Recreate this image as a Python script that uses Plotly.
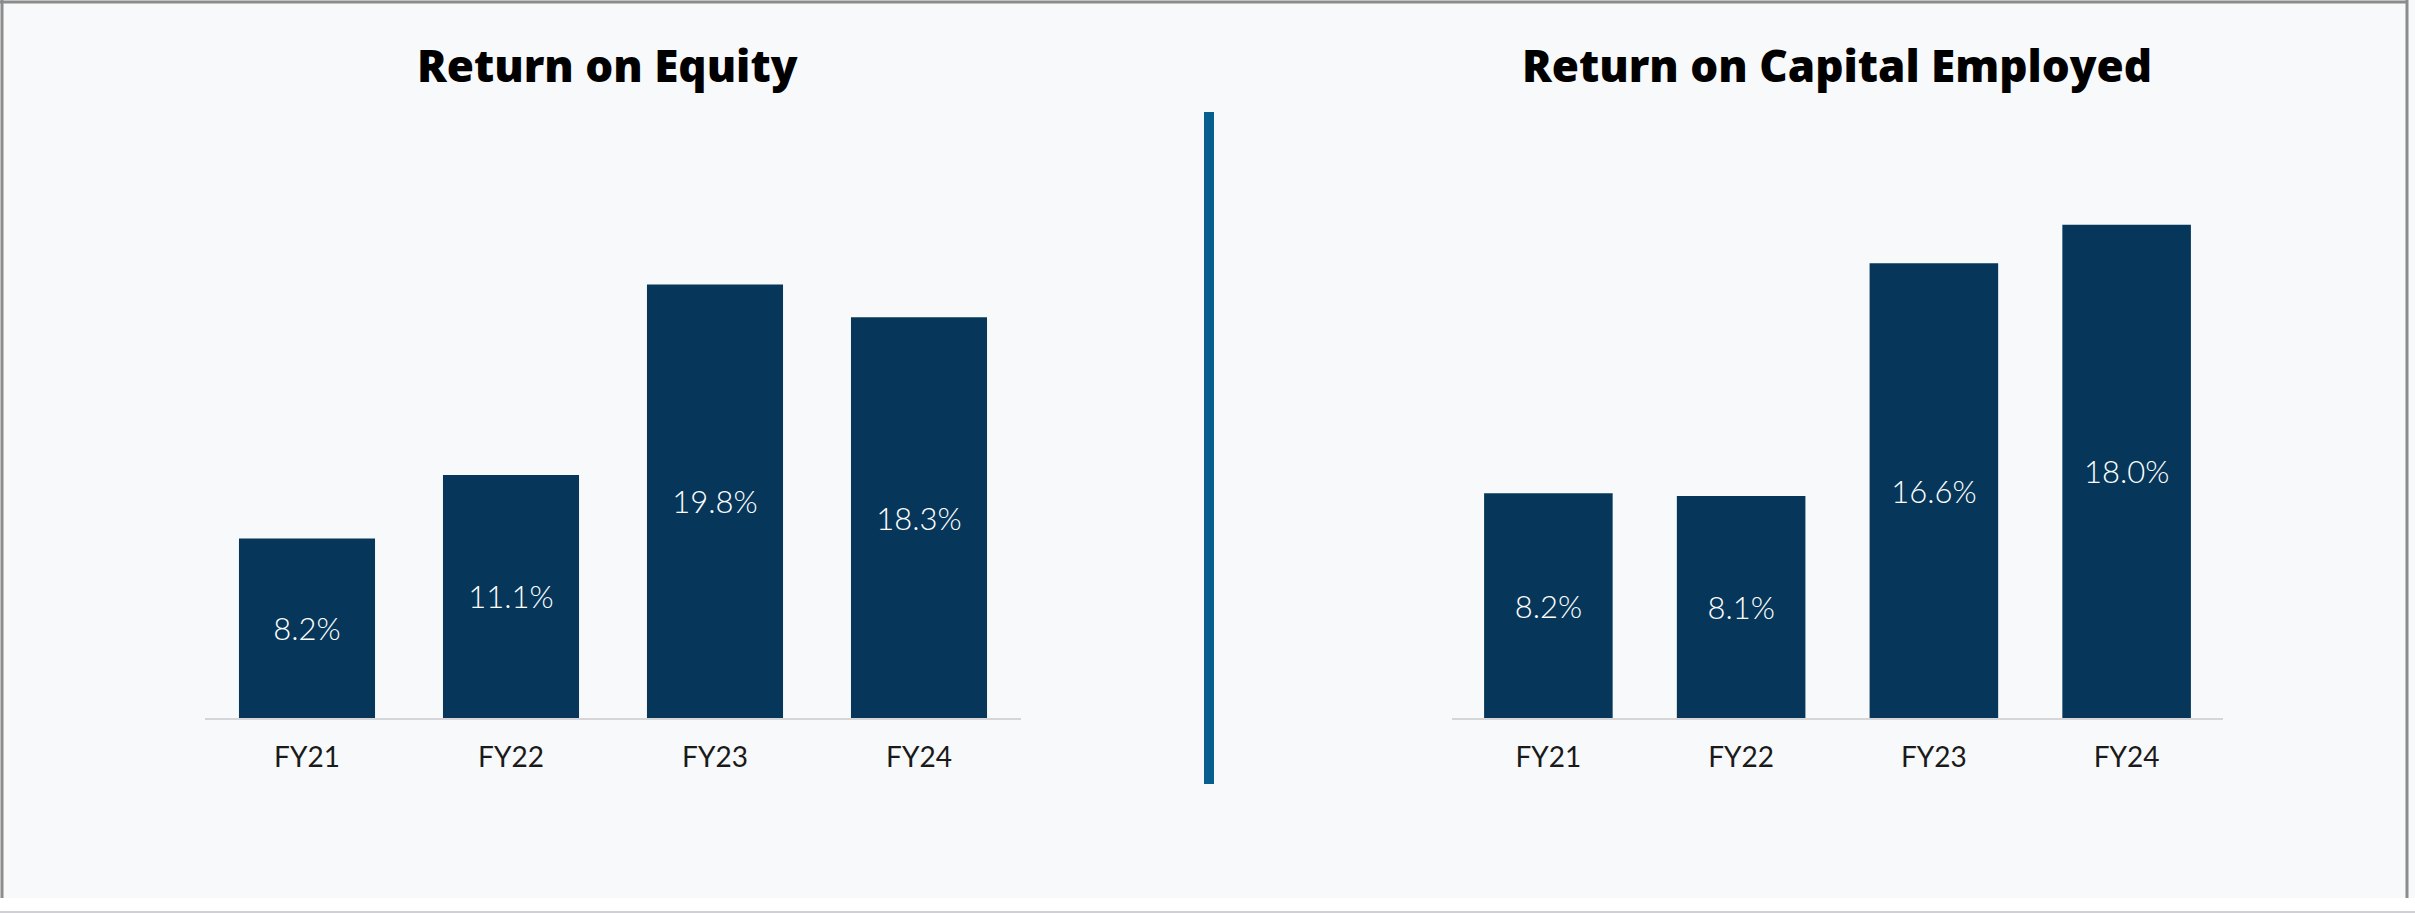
import plotly.graph_objects as go

# data
years = ["FY21", "FY22", "FY23", "FY24"]
roe = [8.2, 11.1, 19.8, 18.3]
roce = [8.2, 8.1, 16.6, 18.0]
titles = ["Return on Equity", "Return on Capital Employed"]

W, H = 2415, 913
bar_color = "#06375a"
bg = "#f8f9fb"
frame = "#8c8c8c"

fig = go.Figure()

for vals, xa, ya in [(roe, "x", "y"), (roce, "x2", "y2")]:
    fig.add_trace(go.Bar(
        x=years, y=vals, xaxis=xa, yaxis=ya,
        marker=dict(color=bar_color, line=dict(width=0)),
        text=[f"{v:.1f}%" for v in vals],
        textposition="inside", insidetextanchor="middle",
        textfont=dict(family="Lato", size=31, color="white", weight=300),
        hoverinfo="x+y",
    ))

base_y = 1 - 718 / H
top_y = 1 - 150 / H

xaxis_common = dict(
    showline=True, linecolor="#d6d6d8", linewidth=2,
    showgrid=False, zeroline=False, ticks="",
    tickfont=dict(family="Lato", size=28, color="#1a1a1a"),
    ticklabelstandoff=13, fixedrange=True,
)
yaxis_common = dict(visible=False, showgrid=False, zeroline=False, fixedrange=True)

fig.update_layout(
    width=W, height=H,
    margin=dict(l=0, r=0, t=0, b=0),
    paper_bgcolor=bg, plot_bgcolor="rgba(0,0,0,0)",
    showlegend=False, bargap=0.333,
    xaxis=dict(domain=[205 / W, 1021 / W], range=[-0.5, 3.5], anchor="y", **xaxis_common),
    yaxis=dict(domain=[base_y, top_y], range=[0, 568 / 21.9], anchor="x", **yaxis_common),
    xaxis2=dict(domain=[1452 / W, 2223 / W], range=[-0.5, 3.5], anchor="y2", **xaxis_common),
    yaxis2=dict(domain=[base_y, top_y], range=[0, 568 / 27.4], anchor="x2", **yaxis_common),
    font=dict(family="Lato"),
)

# panel titles
for xc, t in zip([607 / W, 1837 / W], titles):
    fig.add_annotation(
        x=xc, y=1 - 65 / H, xref="paper", yref="paper",
        text=t, showarrow=False, xanchor="center", yanchor="middle",
        font=dict(family="Open Sans", size=44, color="black", weight=800),
    )

# divider between the two panels
fig.add_shape(
    type="line", xref="paper", yref="paper",
    x0=1209 / W, x1=1209 / W, y0=1 - 784 / H, y1=1 - 112 / H,
    line=dict(color="#075f90", width=10),
)

# white strip under the card
fig.add_shape(
    type="rect", xref="paper", yref="paper",
    x0=0, x1=1, y0=0, y1=15 / H,
    line=dict(width=0), fillcolor="white", layer="above",
)
# card frame: left, top and right edges
fig.add_shape(
    type="line", xref="paper", yref="paper",
    x0=2 / W, x1=2 / W, y0=15 / H, y1=1,
    line=dict(color=frame, width=3), layer="above",
)
fig.add_shape(
    type="line", xref="paper", yref="paper",
    x0=0, x1=1 - 7 / W, y0=1 - 2 / H, y1=1 - 2 / H,
    line=dict(color=frame, width=3), layer="above",
)
fig.add_shape(
    type="line", xref="paper", yref="paper",
    x0=1 - 8 / W, x1=1 - 8 / W, y0=15 / H, y1=1,
    line=dict(color=frame, width=3), layer="above",
)
# faint line at the bottom edge of the page
fig.add_shape(
    type="line", xref="paper", yref="paper",
    x0=0, x1=1, y0=1 / H, y1=1 / H,
    line=dict(color="#d0d0d4", width=2), layer="above",
)

# drop the default page margin so the figure sits at the window origin
fig.write_html(
    "out.html",
    config={"displayModeBar": False},
    post_script="document.body.style.margin='0px';",
)
